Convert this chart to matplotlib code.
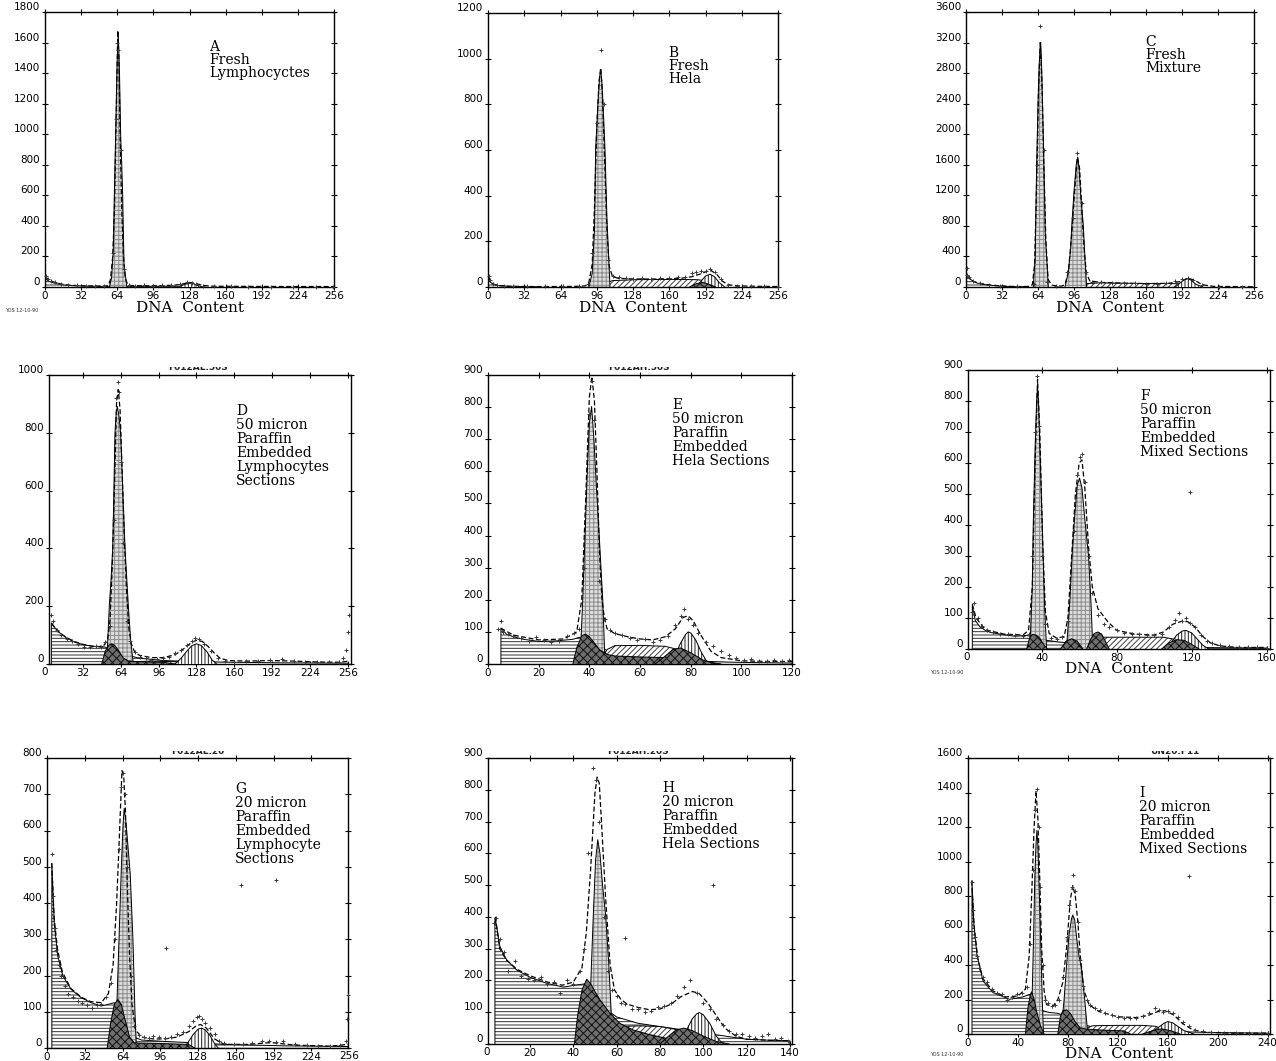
import matplotlib
matplotlib.use("Agg")
import matplotlib.pyplot as plt
from matplotlib.transforms import Bbox, TransformedBbox

W, H = 1276, 1061
plt.rcParams['hatch.linewidth'] = 0.7

# ---------------- data (x list, y list) ----------------
# Panel A
A_debris = [[0.5, 2, 4, 7, 10, 14, 18, 24, 30, 40, 56], [55, 45, 36, 28, 22, 16, 12, 9, 7, 5, 4]]
A_g1 = [[57, 59, 60.5, 61.4, 62.6, 63.8, 64.9, 66, 67, 68, 68.8, 70, 72.5],
        [0, 60, 250, 600, 1000, 1450, 1660, 1400, 1000, 800, 600, 150, 0]]
A_s = [[70, 80, 100, 120, 128], [0, 4, 5, 5, 0]]
A_g2 = [[118, 122, 126, 129, 132, 136, 140], [0, 12, 22, 26, 20, 8, 0]]
A_total = [[0.5, 2, 4, 7, 10, 14, 18, 24, 30, 40, 50, 56, 58, 60, 61.5, 63, 64.5, 65.5, 66.5, 68, 69.5, 71, 73, 76, 85, 100, 115, 122, 128, 134, 140, 150, 180, 220, 256],
           [70, 55, 45, 35, 27, 20, 15, 11, 9, 7, 6, 8, 50, 200, 500, 1100, 1680, 1500, 1000, 500, 200, 60, 20, 10, 8, 8, 12, 20, 30, 22, 10, 5, 4, 3, 3]]
A_pts = [[1, 3, 5, 9, 14, 20, 28, 36, 44, 52, 60, 63, 64, 65, 67, 70, 74, 80, 88, 96, 104, 112, 120, 126, 130, 134, 140, 150, 165, 180, 200, 220, 240, 255],
         [75, 55, 42, 30, 20, 16, 10, 8, 7, 8, 220, 1100, 1600, 1550, 900, 120, 15, 8, 10, 9, 12, 14, 22, 30, 26, 18, 8, 5, 4, 3, 3, 3, 3, 3]]

# Panel B
B_debris = [[0.5, 2, 4, 7, 10, 15, 20, 30, 45], [40, 22, 14, 9, 6, 4, 3, 2, 1]]
B_s = [[100, 104, 110, 130, 150, 170, 185, 195, 205], [0, 18, 28, 32, 33, 33, 32, 25, 0]]
B_g1 = [[89, 92, 94, 95, 97, 98.5, 99.5, 100.5, 102, 103.3, 105, 107.7],
        [0, 60, 250, 600, 800, 920, 950, 900, 750, 600, 300, 0]]
B_g2 = [[184, 188, 192, 196, 200, 204, 209], [0, 25, 48, 56, 45, 20, 0]]
B_agg = [[178, 184, 190, 195, 201], [0, 15, 20, 12, 0]]
B_total = [[0.5, 3, 6, 10, 20, 40, 60, 80, 86, 89, 92, 94, 96, 98, 99.5, 101, 103, 105, 107, 110, 115, 130, 150, 170, 180, 188, 193, 197, 202, 207, 212, 220, 240, 256],
           [45, 20, 10, 6, 3, 2, 2, 3, 5, 20, 100, 350, 700, 900, 960, 850, 550, 250, 90, 45, 38, 35, 35, 38, 45, 58, 68, 72, 55, 25, 10, 5, 3, 2]]
B_pts = [[1, 2, 4, 8, 14, 22, 34, 50, 66, 80, 88, 92, 96, 99.5, 102, 106, 110, 116, 122, 128, 136, 144, 152, 160, 168, 174, 180, 184, 188, 192, 196, 200, 206, 212, 220, 232, 244, 256],
         [50, 30, 15, 8, 5, 4, 3, 3, 3, 4, 15, 150, 720, 1040, 800, 120, 50, 42, 38, 36, 38, 34, 40, 38, 42, 45, 60, 66, 72, 70, 80, 65, 35, 10, 6, 4, 3, 2]]

# Panel C
C_debris = [[0.5, 2, 4, 7, 10, 15, 20, 30, 40, 55], [140, 125, 100, 70, 50, 35, 25, 12, 6, 3]]
C_s = [[100, 108, 120, 140, 160, 180, 195, 205], [0, 45, 55, 50, 45, 45, 40, 0]]
C_g1a = [[59.8, 61.5, 62.8, 64, 65, 66, 66.4, 67.2, 68.2, 69.3, 70.5, 73.2],
         [0, 400, 1600, 2400, 2900, 3150, 3200, 2900, 2300, 1600, 700, 0]]
C_g1b = [[88, 91, 93, 94, 96, 98, 99.3, 100.5, 102, 104.3, 106, 107.3],
         [0, 200, 500, 800, 1250, 1600, 1700, 1550, 1200, 800, 300, 0]]
C_g2 = [[186, 190, 194, 197, 200, 204, 210], [0, 50, 95, 108, 90, 40, 0]]
C_total = [[0.5, 3, 6, 10, 20, 30, 40, 50, 56, 59, 61, 63, 64.5, 66, 67.5, 69, 71, 73, 76, 80, 85, 88, 91, 94, 97, 99, 101, 103, 105, 107, 110, 120, 140, 160, 180, 190, 197, 203, 210, 220, 256],
           [150, 120, 80, 55, 28, 15, 8, 6, 8, 30, 300, 1500, 2600, 3200, 2700, 1700, 600, 100, 25, 15, 12, 30, 200, 700, 1350, 1700, 1550, 1000, 500, 180, 80, 60, 50, 45, 48, 70, 115, 90, 30, 8, 3]]
C_pts = [[0.8, 1, 3, 6, 12, 20, 30, 45, 60, 63, 66, 69, 72, 80, 90, 95, 99, 103, 107, 112, 120, 130, 140, 150, 160, 170, 178, 186, 192, 197, 202, 210, 225, 245],
         [250, 160, 130, 80, 50, 25, 15, 8, 40, 1600, 3420, 1800, 60, 15, 200, 900, 1750, 1100, 200, 70, 60, 55, 50, 48, 45, 45, 55, 75, 100, 115, 90, 20, 5, 3]]

# Panel D
D_debris = [[5.5, 8.6, 12.8, 18.4, 25.5, 32.5, 40.9, 46.6, 50, 55, 60, 70, 80, 100, 130, 160, 200, 250, 256],
            [142, 125, 107, 90, 75, 67, 61, 61, 59, 55, 45, 30, 20, 12, 8, 6, 4, 3, 3]]
D_s = [[68, 75, 90, 110, 125], [0, 8, 10, 8, 0]]
D_g1 = [[52.2, 54.4, 56, 57.3, 58.3, 59.2, 60.3, 61.2, 62.5, 64, 65.8, 67.7, 70.5, 72.5, 74.7],
        [0, 200, 300, 400, 600, 800, 870, 891, 860, 800, 600, 400, 200, 80, 0]]
D_g2 = [[110, 115, 120, 124, 128, 132, 137, 141, 145], [0, 20, 45, 63, 70, 64, 42, 15, 0]]
D_agg = [[48, 51, 54, 56.5, 59, 62, 66, 70.5, 80, 100, 110], [0, 45, 65, 70, 64, 48, 22, 10, 8, 6, 0]]
D_total = [[5.5, 8, 12, 18, 25, 32, 40, 46, 50, 53, 55, 57, 59, 60.5, 62, 63.5, 65, 67, 69, 71, 73, 76, 80, 90, 100, 110, 118, 124, 128, 133, 138, 143, 148, 155, 170, 190, 210, 230, 250, 256],
           [142, 128, 110, 92, 78, 68, 62, 60, 65, 85, 150, 350, 650, 900, 950, 880, 700, 450, 250, 120, 70, 40, 30, 22, 22, 32, 55, 75, 82, 78, 60, 38, 20, 12, 10, 12, 10, 7, 6, 10]]
D_pts = [[5.5, 7, 10, 14, 19, 23, 28, 33, 38, 43, 47, 51, 55, 58, 60, 62, 63, 64.5, 66, 69, 72, 76, 80, 85, 90, 95, 100, 105, 110, 115, 120, 124, 127, 130, 134, 140, 146, 152, 160, 170, 180, 190, 200, 210, 220, 230, 240, 248, 252, 254, 256, 257],
         [170, 150, 118, 100, 85, 80, 70, 60, 58, 62, 60, 75, 130, 500, 920, 975, 940, 700, 420, 150, 80, 40, 25, 20, 15, 18, 20, 25, 38, 50, 65, 80, 90, 85, 70, 45, 22, 12, 8, 10, 12, 15, 18, 12, 8, 6, 6, 8, 20, 50, 110, 170]]

# Panel E
E_debris = [[5.1, 7.3, 10, 13.9, 20.4, 27, 33.6, 36, 40, 45, 50, 60, 70, 80, 90, 100, 110, 120],
            [111, 93, 85, 77, 70, 72, 77, 83, 75, 50, 30, 20, 15, 10, 7, 5, 4, 3]]
E_s = [[44, 47, 50, 60, 70, 75, 78, 82], [0, 45, 57, 58, 55, 45, 25, 0]]
E_g1 = [[36.3, 37.4, 38.3, 39.2, 40, 40.9, 41.8, 42.8, 43.9, 44.6, 45.3, 46.2],
        [0, 200, 400, 600, 750, 802, 700, 550, 400, 300, 200, 0]]
E_g2 = [[72, 74, 76, 78, 79, 80, 82, 84, 86, 88], [0, 30, 65, 92, 100, 97, 75, 40, 12, 0]]
E_agg1 = [[33.5, 35, 37, 38.5, 40, 42, 44, 47, 50, 60, 70, 80, 88, 92],
          [0, 50, 88, 93, 85, 65, 45, 30, 25, 22, 20, 15, 5, 0]]
E_agg2 = [[66, 70, 73, 76, 80, 85, 90], [0, 25, 45, 50, 35, 12, 0]]
E_total = [[5, 10, 20, 30, 35, 37, 38.5, 40, 41, 42, 43, 44, 45, 46, 47, 50, 55, 60, 65, 70, 74, 77, 79, 81, 84, 88, 92, 100, 110, 120],
           [112, 90, 75, 78, 100, 200, 500, 830, 895, 820, 600, 350, 200, 140, 110, 95, 85, 78, 75, 85, 110, 145, 150, 135, 90, 40, 20, 10, 8, 8]]
E_pts = [[4, 5, 6, 8, 10, 13, 16, 19, 22, 25, 28, 31, 34, 36, 38, 40, 41, 42, 44, 46, 48, 50, 53, 56, 59, 62, 65, 68, 71, 74, 76, 77.5, 79, 81, 83, 86, 89, 92, 95, 98, 101, 104, 107, 110, 113, 116, 119],
         [110, 135, 100, 92, 88, 80, 72, 85, 75, 68, 72, 88, 95, 110, 300, 780, 880, 760, 260, 140, 105, 95, 90, 82, 75, 78, 70, 75, 88, 120, 150, 170, 140, 120, 95, 70, 55, 40, 28, 20, 12, 15, 8, 10, 12, 8, 14]]

# Panel F
F_debris = [[3, 4.6, 7, 9.9, 13, 16.9, 21, 25.8, 32, 40, 50, 60, 70, 80, 100, 120, 140, 160],
            [140, 92, 72, 60, 53, 49, 45, 41, 44, 30, 22, 18, 15, 12, 8, 5, 4, 3]]
F_s = [[62, 66, 70, 90, 105, 112, 118], [0, 30, 38, 38, 38, 30, 0]]
F_g1a = [[33.7, 35, 35.5, 36.5, 37.3, 37.8, 38.3, 39.2, 40.3, 41.5, 42.6],
         [0, 200, 400, 650, 800, 845, 800, 620, 400, 150, 0]]
F_g1b = [[53.2, 55, 56.2, 57.5, 59, 60.2, 61.5, 63, 65, 66.3, 67.3],
         [0, 150, 300, 420, 530, 551, 520, 420, 300, 150, 0]]
F_g2 = [[106, 109, 112, 115, 117, 120, 123, 126, 129], [0, 20, 45, 58, 60, 52, 32, 12, 0]]
F_agg1 = [[32, 33.5, 35, 37, 39, 41, 43], [0, 35, 47, 45, 35, 15, 0]]
F_agg2 = [[50, 53, 56, 59, 62], [0, 25, 33, 25, 0]]
F_agg3 = [[64, 66, 68, 70, 72, 74, 76], [0, 30, 50, 55, 48, 25, 0]]
F_agg4 = [[104, 108, 112, 116, 120, 124], [0, 20, 30, 28, 15, 0]]
F_total = [[3, 5, 10, 20, 30, 33, 35, 36.5, 37.8, 39, 40.5, 42, 44, 48, 52, 54, 56, 58, 60, 61.5, 63, 65, 67, 70, 75, 80, 90, 100, 105, 110, 115, 118, 122, 126, 130, 135, 145, 160],
           [145, 100, 62, 48, 45, 60, 200, 600, 870, 700, 350, 120, 50, 35, 40, 100, 300, 500, 600, 610, 520, 330, 200, 130, 90, 60, 48, 45, 55, 80, 90, 88, 70, 40, 20, 10, 5, 5]]
F_pts = [[3, 4, 6, 8, 11, 14, 18, 22, 26, 30, 33, 35, 36.5, 37.5, 38.5, 40, 42, 45, 48, 51, 54, 57, 59, 60.5, 61.5, 63, 65, 67, 70, 73, 76, 80, 84, 88, 92, 96, 100, 104, 108, 111, 113, 115, 117, 119, 119, 122, 125, 128, 131, 135, 140, 145, 150, 155, 160],
         [120, 148, 100, 75, 60, 55, 50, 48, 45, 42, 50, 300, 700, 880, 720, 300, 80, 35, 32, 38, 90, 380, 560, 620, 630, 540, 300, 180, 110, 80, 70, 60, 52, 50, 48, 45, 45, 50, 70, 95, 115, 90, 100, 85, 507, 70, 45, 25, 18, 12, 10, 6, 5, 5, 4]]

# Panel G
G_debris = [[4.1, 6.3, 9.1, 13.4, 20.4, 28.9, 37.3, 45.8, 51.4, 57, 62, 66, 70, 80, 100, 120, 150, 200, 255],
            [509, 338, 254, 199, 162, 139, 125, 116, 120, 125, 90, 60, 35, 22, 18, 15, 10, 6, 4]]
G_g1 = [[58, 59.5, 61, 63, 64.5, 65.4, 67, 68.5, 70.5, 72.8, 74.5, 75.8],
        [0, 150, 300, 500, 620, 661, 620, 560, 480, 300, 100, 0]]
G_g2 = [[116, 120, 124, 128, 131, 134, 138, 142, 145], [0, 18, 38, 52, 55, 50, 35, 12, 0]]
G_agg = [[51, 54, 57, 60, 63, 66, 70, 74, 100, 120, 125], [0, 70, 120, 134, 120, 80, 30, 14, 12, 10, 0]]
G_total = [[4, 6, 9, 13, 20, 29, 37, 46, 52, 56, 59, 61.5, 63.5, 65, 66.5, 68, 70, 72, 75, 80, 90, 100, 110, 120, 126, 130, 135, 142, 150, 170, 190, 210, 240, 255],
           [510, 360, 270, 210, 165, 140, 128, 125, 150, 230, 400, 600, 765, 750, 650, 450, 250, 120, 50, 30, 25, 25, 30, 45, 60, 65, 55, 25, 10, 10, 15, 8, 5, 10]]
G_pts = [[4, 5, 6.5, 8, 10, 12, 15, 18, 22, 26, 30, 34, 38, 42, 46, 50, 54, 58, 61, 63, 64.5, 66, 68, 71, 74, 78, 82, 86, 90, 95, 100, 105, 110, 115, 120, 124, 127, 129, 131, 134, 138, 142, 146, 150, 158, 166, 174, 182, 188, 194, 200, 210, 220, 230, 240, 248, 253, 254, 255, 164, 193.6, 100.7],
         [535, 420, 330, 270, 230, 200, 170, 150, 140, 130, 125, 118, 110, 120, 122, 140, 180, 300, 550, 720, 760, 700, 500, 200, 60, 35, 30, 28, 32, 30, 28, 30, 38, 45, 60, 75, 85, 88, 80, 70, 55, 40, 20, 15, 10, 12, 14, 18, 20, 16, 18, 12, 8, 6, 5, 8, 20, 80, 145, 450, 463, 276]]

# Panel H
H_debris = [[3.8, 4.6, 6.1, 9.2, 13.8, 20, 27.7, 35.4, 41.6, 46.2, 50, 55, 60, 70, 80, 90, 100, 110, 120, 130, 140],
            [396, 370, 307, 265, 233, 210, 191, 179, 186, 190, 150, 110, 85, 65, 55, 45, 35, 25, 15, 12, 10]]
H_s = [[53, 57, 60, 70, 80, 88, 92, 96], [0, 40, 55, 57, 55, 45, 25, 0]]
H_g1 = [[46.5, 48, 49.2, 50.3, 51.3, 52.3, 53.5, 55, 56.4, 57.5, 58.5],
        [0, 180, 400, 580, 643, 600, 500, 400, 250, 100, 0]]
H_g2 = [[89, 92, 95, 97, 98.2, 100, 103, 106, 109], [0, 40, 80, 95, 99, 92, 65, 25, 0]]
H_agg1 = [[40.5, 42, 44, 46.2, 48, 50, 52.3, 56.9, 61.5, 67.7, 75, 85, 92],
          [0, 90, 170, 204, 190, 165, 139, 97, 65, 44, 30, 15, 0]]
H_agg2 = [[80, 84, 88, 91, 95, 100, 106, 112], [0, 25, 45, 50, 42, 25, 8, 0]]
H_total = [[4, 6, 9, 14, 20, 28, 35, 40, 44, 46, 48, 50, 51, 52, 53, 55, 57, 59, 62, 65, 70, 75, 80, 85, 90, 95, 98, 102, 106, 110, 115, 120, 130, 140],
           [400, 300, 265, 235, 215, 195, 185, 195, 240, 350, 550, 790, 840, 820, 700, 450, 250, 170, 140, 125, 115, 108, 110, 125, 150, 165, 160, 130, 90, 50, 25, 15, 12, 10]]
H_pts = [[3.5, 4.5, 6, 8, 10, 13, 16, 19, 22, 25, 28, 31, 34, 37, 40, 43, 45, 47, 49, 50.5, 52, 54, 56, 58, 60, 62, 64, 67, 70, 73, 76, 79, 82, 85, 88, 91, 94, 97, 100, 103, 106, 109, 112, 115, 118, 121, 124, 127, 130, 133, 136, 139, 104.5, 63.9],
         [380, 395, 330, 290, 230, 260, 215, 205, 200, 210, 190, 195, 160, 200, 190, 230, 300, 600, 870, 830, 700, 400, 230, 170, 150, 130, 125, 110, 110, 100, 105, 115, 120, 130, 150, 180, 200, 160, 130, 110, 80, 60, 40, 30, 30, 25, 20, 25, 30, 15, 20, 10, 500, 333]]

# Panel I
I_debris = [[3.2, 4.5, 7.1, 12, 20, 33.3, 44, 49.3, 55, 60, 65, 72, 80, 90, 100, 120, 160, 200, 240],
            [879, 656, 463, 308, 240, 201, 215, 230, 170, 135, 125, 120, 100, 60, 40, 25, 15, 8, 5]]
I_s = [[90, 95, 100, 120, 140, 150, 158, 165], [0, 35, 48, 50, 50, 45, 25, 0]]
I_g1a = [[50, 51.5, 52.5, 53.5, 54.5, 55.2, 56, 57, 58.2, 59.5, 60.5],
         [0, 250, 550, 900, 1100, 1180, 1100, 850, 550, 200, 0]]
I_g1b = [[74.5, 77, 79, 81, 83, 84, 85.5, 87, 89, 91, 93.5, 96],
         [0, 200, 400, 580, 670, 690, 660, 560, 450, 380, 200, 0]]
I_g2 = [[143, 148, 153, 157, 160, 164, 168, 173, 181], [0, 15, 40, 62, 72, 65, 45, 20, 0]]
I_agg1 = [[46, 48, 50, 51, 53, 55, 58, 61], [0, 150, 230, 245, 200, 130, 50, 0]]
I_agg2 = [[72, 74, 76, 79, 82, 86, 90, 95, 110, 125, 130], [0, 100, 135, 140, 120, 70, 35, 28, 22, 18, 0]]
I_agg3 = [[140, 148, 155, 162, 170], [0, 20, 30, 20, 0]]
I_total = [[3, 5, 8, 12, 20, 30, 40, 46, 49, 51, 53, 54.5, 56, 57.5, 59, 61, 63, 68, 72, 76, 79, 82, 84, 86, 88, 90, 93, 97, 105, 120, 135, 145, 152, 158, 165, 172, 180, 190, 210, 240],
           [890, 620, 430, 320, 250, 215, 220, 260, 450, 800, 1200, 1410, 1250, 900, 500, 250, 170, 160, 200, 300, 500, 780, 860, 800, 650, 450, 250, 170, 130, 100, 95, 110, 130, 135, 110, 60, 25, 10, 5, 5]]
I_pts = [[3, 4, 5.5, 7, 9, 12, 15, 19, 23, 27, 31, 35, 39, 43, 47, 50, 52, 53.5, 55, 56.5, 58, 60, 62, 64, 67, 70, 73, 76, 79, 81, 83, 84.5, 86, 88, 90, 92, 95, 98, 102, 106, 110, 115, 120, 125, 130, 135, 140, 145, 150, 153, 156, 160, 164, 168, 172, 177, 182, 188, 195, 205, 215, 225, 235, 240, 177.4],
         [880, 720, 560, 450, 380, 330, 300, 260, 240, 230, 200, 215, 230, 240, 270, 520, 950, 1300, 1420, 1200, 850, 400, 200, 180, 165, 170, 200, 330, 560, 750, 850, 920, 830, 650, 430, 280, 200, 170, 150, 140, 120, 110, 100, 95, 95, 90, 105, 120, 150, 140, 130, 135, 120, 100, 70, 45, 25, 15, 10, 8, 5, 5, 6, 5, 917]]

# labels
texts = {
    'A': ["A", "Fresh", "Lymphocyctes"],
    'B': ["B", "Fresh", "Hela"],
    'C': ["C", "Fresh", "Mixture"],
    'D': ["D", "50 micron", "Paraffin", "Embedded", "Lymphocytes", "Sections"],
    'E': ["E", "50 micron", "Paraffin", "Embedded", "Hela Sections"],
    'F': ["F", "50 micron", "Paraffin", "Embedded", "Mixed Sections"],
    'G': ["G", "20 micron", "Paraffin", "Embedded", "Lymphocyte", "Sections"],
    'H': ["H", "20 micron", "Paraffin", "Embedded", "Hela Sections"],
    'I': ["I", "20 micron", "Paraffin", "Embedded", "Mixed Sections"],
}
file_labels = {'D': "F012AL.50S", 'E': "F012AH.50S", 'G': "F012AL.20", 'H': "F012AH.20S", 'I': "UN20.F11"}
x_label = "DNA  Content"
stamp = "YOS 12-10-90"

x_ticks_256 = [0, 32, 64, 96, 128, 160, 192, 224, 256]
x_ticks = {'A': x_ticks_256, 'B': x_ticks_256, 'C': x_ticks_256, 'D': x_ticks_256, 'G': x_ticks_256,
           'E': [0, 20, 40, 60, 80, 100, 120], 'F': [0, 40, 80, 120, 160],
           'H': [0, 20, 40, 60, 80, 100, 120, 140], 'I': [0, 40, 80, 120, 160, 200, 240]}
y_ticks = {'A': list(range(0, 1801, 200)), 'B': list(range(0, 1201, 200)), 'C': list(range(0, 3601, 400)),
           'D': list(range(0, 1001, 200)), 'E': list(range(0, 901, 100)), 'F': list(range(0, 901, 100)),
           'G': list(range(0, 801, 100)), 'H': list(range(0, 901, 100)), 'I': list(range(0, 1601, 200))}

# ---------------- styles ----------------
STY = {
    'debris': dict(facecolor='white', edgecolor='#303030', hatch='-----'),
    'g1': dict(facecolor='#dcdcdc', edgecolor='#8c8c8c', hatch='++++'),
    'agg': dict(facecolor='#6e6e6e', edgecolor='#111111', hatch='xxxx'),
    's': dict(facecolor='white', edgecolor='#404040', hatch='//////'),
    'g2': dict(facecolor='white', edgecolor='#202020', hatch='|||||'),
}

panels = {
    'A': dict(box=(45, 12, 334, 287), xlim=(0, 256), ylim=(0, 1800),
              comps=[(A_debris, 'debris'), (A_s, 's'), (A_g1, 'g1'), (A_g2, 'g2')],
              total=A_total, pts=A_pts, txt=(209, 40, 13), xl=(190, 312), stamp=(5, 310)),
    'B': dict(box=(488, 13, 778, 287), xlim=(0, 256), ylim=(0, 1200),
              comps=[(B_debris, 'debris'), (B_s, 's'), (B_g1, 'g1'), (B_g2, 'g2'), (B_agg, 'agg')],
              total=B_total, pts=B_pts, txt=(668, 46, 13), xl=(633, 312)),
    'C': dict(box=(966, 12, 1254, 287), xlim=(0, 256), ylim=(0, 3600),
              comps=[(C_debris, 'debris'), (C_s, 's'), (C_g1a, 'g1'), (C_g1b, 'g1'), (C_g2, 'g2')],
              total=C_total, pts=C_pts, txt=(1145, 35, 13), xl=(1110, 312)),
    'D': dict(box=(49, 375, 351, 664), xlim=(3.5, 258.5), ylim=(0, 1000),
              comps=[(D_debris, 'debris'), (D_s, 's'), (D_g1, 'g1'), (D_g2, 'g2'), (D_agg, 'agg')],
              total=D_total, pts=D_pts, txt=(236, 404, 14), fl=(198, 368)),
    'E': dict(box=(488, 375, 792, 664), xlim=(0, 120), ylim=(0, 900),
              comps=[(E_debris, 'debris'), (E_s, 's'), (E_g1, 'g1'), (E_g2, 'g2'), (E_agg1, 'agg'), (E_agg2, 'agg')],
              total=E_total, pts=E_pts, txt=(672, 398, 14), fl=(639, 368)),
    'F': dict(box=(968, 370, 1270, 649), xlim=(0.7, 161.8), ylim=(0, 900),
              comps=[(F_debris, 'debris'), (F_s, 's'), (F_g1a, 'g1'), (F_g1b, 'g1'), (F_g2, 'g2'),
                     (F_agg1, 'agg'), (F_agg2, 'agg'), (F_agg3, 'agg'), (F_agg4, 'agg')],
              total=F_total, pts=F_pts, txt=(1140, 389, 14), xl=(1119, 673), stamp=(930, 672)),
    'G': dict(box=(47, 758, 348, 1048), xlim=(0, 255), ylim=(0, 800),
              comps=[(G_debris, 'debris'), (G_g1, 'g1'), (G_g2, 'g2'), (G_agg, 'agg')],
              total=G_total, pts=G_pts, txt=(235, 782, 14), fl=(198, 752)),
    'H': dict(box=(488, 758, 792, 1044), xlim=(0.6, 141), ylim=(0, 900),
              comps=[(H_debris, 'debris'), (H_s, 's'), (H_g1, 'g1'), (H_g2, 'g2'), (H_agg1, 'agg'), (H_agg2, 'agg')],
              total=H_total, pts=H_pts, txt=(662, 781, 14), fl=(638, 752)),
    'I': dict(box=(968, 758, 1270, 1034), xlim=(0, 242), ylim=(0, 1600),
              comps=[(I_debris, 'debris'), (I_s, 's'), (I_g1a, 'g1'), (I_g1b, 'g1'), (I_g2, 'g2'),
                     (I_agg1, 'agg'), (I_agg2, 'agg'), (I_agg3, 'agg')],
              total=I_total, pts=I_pts, txt=(1139, 786, 14), xl=(1119, 1058), stamp=(930, 1055), fl=(1175, 752)),
}

fig = plt.figure(figsize=(W / 100, H / 100), dpi=100)
fig.patch.set_facecolor('white')

TICK_FONT = dict(family='DejaVu Sans', size=7.5)

for key, p in panels.items():
    l, t, r, b = p['box']
    ax = fig.add_axes([l / W, 1 - b / H, (r - l) / W, (b - t) / H])
    ax.set_xlim(*p['xlim'])
    ax.set_ylim(*p['ylim'])
    z = 2
    for (xs, ys), st in p['comps']:
        px = [xs[0]] + list(xs) + [xs[-1]]
        py = [0] + list(ys) + [0]
        ax.fill(px, py, linewidth=0, zorder=z, **STY[st])
        ax.plot(px, py, color='black', lw=0.7, zorder=z + 0.1)
        z += 0.2
    tx, ty = p['total']
    ax.plot(tx, ty, color='black', lw=0.9, ls=(0, (4, 2)), zorder=10)
    qx, qy = p['pts']
    ax.plot(qx, qy, ls='none', marker='+', ms=3.5, mew=0.7, color='#3a3a3a', zorder=11, clip_on=False)

    xt = [v for v in x_ticks[key] if p['xlim'][0] <= v <= p['xlim'][1]]
    ax.set_xticks(xt)
    ax.set_xticklabels([str(v) for v in xt], fontdict=TICK_FONT)
    for v in x_ticks[key]:
        if v not in xt:
            ax.text(v, -0.010, str(v), transform=ax.get_xaxis_transform(), ha='center', va='top',
                    fontdict=TICK_FONT, clip_on=False)
    ax.set_yticks(y_ticks[key])
    ax.set_yticklabels([str(v) for v in y_ticks[key]], fontdict=TICK_FONT, va='bottom')
    ax.tick_params(axis='both', which='both', direction='inout', length=5, width=0.8,
                   top=True, right=True, colors='black')
    ax.tick_params(axis='x', pad=0.3)
    ax.tick_params(axis='y', pad=1.0)
    for s in ax.spines.values():
        s.set_linewidth(1.0)

    # panel description
    x0, y0, dy = p['txt']
    for i, line in enumerate(texts[key]):
        fig.text(x0 / W, 1 - (y0 + i * dy) / H, line, family='DejaVu Serif', size=10,
                 ha='left', va='top')
    if 'xl' in p:
        cx, cy = p['xl']
        fig.text(cx / W, 1 - cy / H, x_label, family='DejaVu Serif', size=11, ha='center', va='baseline')
    if 'stamp' in p:
        sx, sy = p['stamp']
        fig.text(sx / W, 1 - sy / H, stamp, family='DejaVu Sans', size=3.5, ha='left', va='center',
                 color='#333333')
    if 'fl' in p:
        fx, fy = p['fl']
        tt = fig.text(fx / W, 1 - fy / H, file_labels[key], family='DejaVu Sans', size=6.5,
                      weight='bold', ha='center', va='center', color='#222222')
        clip = Bbox.from_extents(0, 1 - (fy + 8) / H, 1, 1 - (fy - 1) / H)
        tt.set_clip_on(True)
        tt.set_clip_box(TransformedBbox(clip, fig.transFigure))

fig.savefig('out.png', dpi=100, facecolor='white')
